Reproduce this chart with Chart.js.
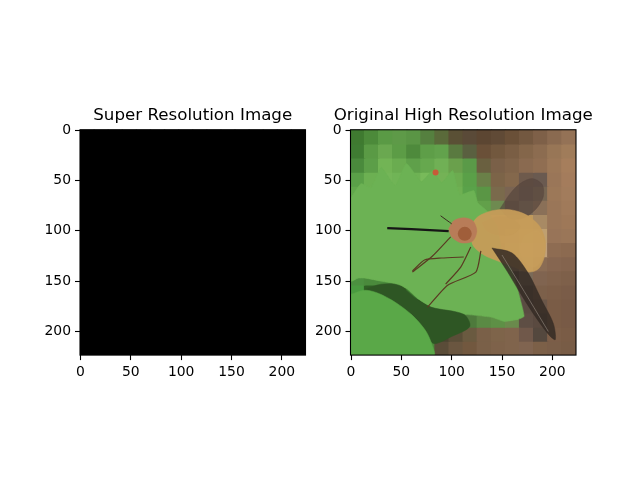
<!DOCTYPE html>
<html>
<head>
<meta charset="utf-8">
<script src="https://cdn.jsdelivr.net/npm/chart.js@4"></script>
<style>
  html, body { margin: 0; padding: 0; background: #fff; }
  #wrap { position: relative; width: 640px; height: 480px; }
  canvas { position: absolute; left: 0; top: 0; }
</style>
</head>
<body>
<div id="wrap">
  <canvas id="srChart" width="640" height="480"></canvas>
  <canvas id="hrChart" width="640" height="480"></canvas>
</div>
<script>
// ---- data ----
const tickValues = [0, 50, 100, 150, 200];
const cellSize = 14; // 224 px image shown as 16 x 16 cells

// super resolution output: all pixels 0 (black)
const srPixels = [
  [0,0,0,0,0,0,0,0,0,0,0,0,0,0,0,0],
  [0,0,0,0,0,0,0,0,0,0,0,0,0,0,0,0],
  [0,0,0,0,0,0,0,0,0,0,0,0,0,0,0,0],
  [0,0,0,0,0,0,0,0,0,0,0,0,0,0,0,0],
  [0,0,0,0,0,0,0,0,0,0,0,0,0,0,0,0],
  [0,0,0,0,0,0,0,0,0,0,0,0,0,0,0,0],
  [0,0,0,0,0,0,0,0,0,0,0,0,0,0,0,0],
  [0,0,0,0,0,0,0,0,0,0,0,0,0,0,0,0],
  [0,0,0,0,0,0,0,0,0,0,0,0,0,0,0,0],
  [0,0,0,0,0,0,0,0,0,0,0,0,0,0,0,0],
  [0,0,0,0,0,0,0,0,0,0,0,0,0,0,0,0],
  [0,0,0,0,0,0,0,0,0,0,0,0,0,0,0,0],
  [0,0,0,0,0,0,0,0,0,0,0,0,0,0,0,0],
  [0,0,0,0,0,0,0,0,0,0,0,0,0,0,0,0],
  [0,0,0,0,0,0,0,0,0,0,0,0,0,0,0,0],
  [0,0,0,0,0,0,0,0,0,0,0,0,0,0,0,0]
];

// original image, coarse colour per cell
const hrPixels = [
  ['#3f7a30','#4c8a3a','#5a9a45','#5e9a48','#5a9545','#55803f','#5a6a3a','#5a5035','#5a4a38','#5c4632','#604a36','#6a5038','#735840','#7e6048','#8a6a50','#947256'],
  ['#3f7c32','#5a9a45','#6aa850','#5c9c46','#4e8a3c','#5e9e48','#62a24c','#5a7a40','#5a6040','#6a5038','#72583e','#7a5e44','#84664a','#8c6c50','#987656','#a07c5a'],
  ['#4a8a3c','#5c9e48','#72b455','#6aac50','#5fa04a','#66a84e','#70b055','#6aa04c','#5a9a48','#6a6040','#7a6048','#80644a','#8a6a50','#906e52','#9c7858','#a67e5c'],
  ['#5aa048','#6cb052','#74b658','#70b456','#6eb254','#78ba5a','#74b256','#6cac50','#5aa048','#6a8048','#7c6448','#84684c','#6e5a4c','#6a5a50','#9a7658','#a47c5c'],
  ['#62a84c','#70b455','#74b858','#78ba5a','#74b658','#70b455','#72b456','#6eb052','#5aa24a','#5a9645','#7a6a4c','#7a6452','#6a5a4e','#756552','#9c7858','#a27c5c'],
  ['#64aa4e','#6eb254','#74b658','#72b456','#70b456','#6cb052','#6aae52','#6cae52','#64a84e','#62a04a','#6e8a50','#6c5a48','#7a6a58','#8a7058','#9a7658','#a07a5a'],
  ['#62a84c','#6ab052','#6eb254','#6cb052','#6ab050','#68ae50','#66ac4e','#7a9a55','#9a7448','#b08a50','#c09656','#b89058','#c09a5c','#a88a64','#9a7658','#9e7858'],
  ['#60a64a','#66ac4e','#6aae50','#68ac50','#66aa4e','#64a84c','#62a64c','#a87a5a','#a06a4a','#b08040','#c09850','#c8a060','#d0a868','#c0a070','#987458','#9a7658'],
  ['#5aa048','#62a84c','#66aa4e','#68ac50','#6aae50','#6aae52','#6aaa52','#6aa850','#a09858','#c0a060','#b08a58','#c8a868','#d8b878','#c0a07a','#8e6c52','#8c6a50'],
  ['#5aa048','#5ea44a','#62a84c','#66aa4e','#5e9e48','#6aa04c','#6aaa52','#609e4a','#5a9a48','#6a9a50','#6a5a48','#a08868','#c8b088','#8a6c54','#866650','#84644e'],
  ['#4c9040','#4a8a3c','#4a8a3c','#5a9a48','#64a44c','#68a84e','#6aa84e','#62a04a','#60a44a','#6aaa50','#6aa04e','#544a40','#7a6a58','#806450','#80624c','#7e604a'],
  ['#4a9a40','#2f6024','#2a5420','#305a22','#3e7a30','#5a9a46','#62a24a','#5ea048','#62a84c','#6aac50','#6aa64e','#5a5a44','#5e5048','#7c604a','#7c5e48','#7a5c48'],
  ['#5aa848','#58a446','#4a8a3c','#2c5a22','#284c1c','#2e5420','#4e8a3c','#5a9a48','#5a9e48','#64a64c','#5ea048','#6a8a48','#5a4c42','#6a5648','#7a5c46','#785a46'],
  ['#5aa848','#62ac4e','#5aa448','#52983e','#3a6a2c','#2a4a1e','#3a4a28','#4a4a30','#4e7a3c','#5a8a44','#5e9046','#6a8a4c','#5e4e44','#5a4a40','#7a5c46','#785a46'],
  ['#56a446','#5eaa4a','#62ac4e','#5aa448','#58a046','#3c6a2c','#4a4430','#5a4e38','#6a5a40','#7a6048','#7e644a','#80644c','#70584a','#54483e','#7c5e48','#7a5c46'],
  ['#52a044','#5aa648','#60aa4c','#5ea84a','#5aa246','#4a8a3a','#5a4c38','#6a5640','#72583f','#7a6048','#7e624a','#80644c','#806450','#7c6048','#7a5e48','#785c46']
];

// outlines, in image pixel units [x, y]
const mainLeafPts = [[0,67],[10,53],[20,57],[30,37],[44,55],[55,33],[70,51],[81,40],[90,52],[101,40],[108,64],[122,60],[126,72],[135,80],[145,95],[150,120],[160,140],[166,160],[172,185],[166,188],[152,190],[140,186],[124,184],[112,183],[96,180],[80,176],[67,168],[56,158],[47,153],[30,150],[14,147],[7,147],[0,150],[0,67]];
const shadowPts = [[14,158],[30,153],[47,154],[67,169],[80,176],[112,183],[118,195],[100,205],[82,212],[74,199],[61,184],[44,171],[27,162],[14,158]];
const lowerLeafPts = [[0,163],[14,159],[27,162],[44,171],[61,184],[74,199],[80,212],[82,224],[0,224],[0,163]];
const upperWingPts = [[148,78],[158,63],[168,53],[180,48],[190,54],[191,66],[184,78],[172,87],[158,88],[148,78]];
const bodyPts = [[118,96],[126,86],[140,80],[158,79],[174,84],[187,95],[193,110],[192,126],[186,138],[176,141],[162,136],[146,130],[132,124],[121,114],[118,96]];
const bodyDarkPts = [[130,92],[145,86],[160,88],[168,96],[160,104],[145,104],[135,100],[130,92]];
const bodyRearPts = [[172,105],[185,100],[192,112],[190,128],[182,136],[172,130],[168,118],[172,105]];
const headPts = [[97,98],[102,90],[112,87],[121,90],[125,100],[121,110],[110,112],[100,106],[97,98]];
const eyePts = [[113,103]];
const lowerWingPts = [[140,117],[155,140],[170,165],[185,188],[198,205],[203,208],[201,192],[190,170],[176,142],[160,122],[140,117]];
const wingStreakPts = [[150,124],[178,170],[196,200]];
const proboscisPts = [[36,97.3],[60,98.3],[97,100.3]];
const antennaPts = [[89,85],[100,93]];
const frontLegPts = [[99,106],[81,125],[61,141]];
const secondLegPts = [[112,126],[90,127],[73,129],[61,140]];
const midLegPts = [[119,116],[109,136],[94,153]];
const hindLegPts = [[129,120],[124,141],[96,154],[76,176]];
const redSpotPts = [[84,42]];

// ---- helpers ----
Chart.defaults.font.family = 'DejaVu Sans';

function gridDatasets(colors) {
  return colors.map((row, r) => ({
    type: 'bar',
    order: 20,
    grouped: false,
    barPercentage: 1,
    categoryPercentage: 1,
    borderWidth: 0,
    borderSkipped: false,
    inflateAmount: 0.7,
    backgroundColor: row,
    data: row.map((_, c) => ({
      x: c * cellSize + cellSize / 2 - 0.5,
      y: [r * cellSize - 0.5, (r + 1) * cellSize - 0.5]
    }))
  }));
}

function toXY(pts) {
  return pts.map(p => ({ x: p[0], y: p[1] }));
}

function shape(pts, color, order, tension) {
  return {
    type: 'line', order: order, data: toXY(pts),
    fill: 'shape', backgroundColor: color, borderColor: color,
    borderWidth: 0.5, pointRadius: 0, tension: tension === undefined ? 0.3 : tension
  };
}

function stroke(pts, color, width, order) {
  return {
    type: 'line', order: order, data: toXY(pts),
    fill: false, borderColor: color, borderWidth: width,
    pointRadius: 0, tension: 0.2
  };
}

function dot(pts, color, radius, order) {
  return {
    type: 'line', order: order, data: toXY(pts), showLine: false,
    pointRadius: radius, pointBackgroundColor: color, pointBorderWidth: 0
  };
}

const framePlugin = {
  id: 'frame',
  afterDatasetsDraw(chart) {
    const a = chart.chartArea;
    const ctx = chart.ctx;
    ctx.save();
    ctx.strokeStyle = '#000';
    ctx.lineWidth = 1.1;
    ctx.strokeRect(a.left, a.top, a.right - a.left, a.bottom - a.top);
    ctx.restore();
  }
};

function axis(reverse, fit) {
  return {
    type: 'linear',
    min: -0.5,
    max: 223.5,
    reverse: reverse,
    offset: false,
    afterBuildTicks: s => { s.ticks = tickValues.map(v => ({ value: v })); },
    afterFit: fit,
    grid: {
      display: true, drawOnChartArea: false, drawTicks: true, offset: false,
      tickLength: 5, tickWidth: 1.1, tickColor: '#000'
    },
    border: { display: false },
    ticks: {
      color: '#000', padding: 4, maxRotation: 0, autoSkip: false,
      font: { family: 'DejaVu Sans', size: 13.9 }
    }
  };
}

// empty right-hand axis, same width as the left one, so the title centres over the image
const spacerAxis = {
  type: 'linear', position: 'right', min: 0, max: 1,
  grid: { display: false }, border: { display: false }, ticks: { display: false },
  afterFit: s => { s.width = 40; }
};

function makeImageChart(id, title, datasets, padLeft, padRight) {
  return new Chart(document.getElementById(id), {
    type: 'bar',
    data: { datasets: datasets },
    options: {
      responsive: false,
      animation: false,
      events: [],
      layout: { padding: { left: padLeft, right: padRight, top: 105.7, bottom: 94.9 } },
      scales: {
        x: axis(false, s => { s.height = 30; }),
        y: axis(true, s => { s.width = 40; }),
        yPad: spacerAxis
      },
      plugins: {
        legend: { display: false },
        tooltip: { enabled: false },
        title: {
          display: true, text: title, color: '#000',
          font: { family: 'DejaVu Sans', size: 16.7, weight: 'normal' },
          padding: { top: 0, bottom: 4 }
        }
      }
    },
    plugins: [framePlugin]
  });
}

// ---- charts ----
const srColors = srPixels.map(row => row.map(v => `rgb(${v},${v},${v})`));
makeImageChart('srChart', 'Super Resolution Image', gridDatasets(srColors), 40, 294.5);

const hrDatasets = gridDatasets(hrPixels).concat([
  shape(mainLeafPts, '#6cb254', 16, 0.15),
  shape(shadowPts, '#2e5624', 15, 0.3),
  shape(lowerLeafPts, '#5aa848', 14, 0.3),
  shape(upperWingPts, 'rgba(85,68,60,0.65)', 9),
  shape(bodyPts, 'rgba(198,156,88,0.95)', 8),
  shape(bodyDarkPts, 'rgba(130,95,45,0.5)', 8),
  shape(bodyRearPts, 'rgba(225,200,140,0.55)', 8),
  shape(headPts, '#b87c58', 7),
  dot(eyePts, '#a05e3a', 7, 6),
  shape(lowerWingPts, 'rgba(52,42,36,0.85)', 5),
  stroke(wingStreakPts, 'rgba(150,140,130,0.6)', 1, 4),
  stroke(frontLegPts, '#5a3a22', 1.2, 3),
  stroke(secondLegPts, '#5a3a22', 1.2, 3),
  stroke(midLegPts, '#5a3a22', 1.2, 3),
  stroke(hindLegPts, '#5a3a22', 1.2, 3),
  stroke(proboscisPts, '#161616', 2.2, 2),
  stroke(antennaPts, '#3a2a20', 1, 2),
  dot(redSpotPts, '#c85a38', 3, 1)
]);
makeImageChart('hrChart', 'Original High Resolution Image', hrDatasets, 310.5, 24);
</script>
</body>
</html>
